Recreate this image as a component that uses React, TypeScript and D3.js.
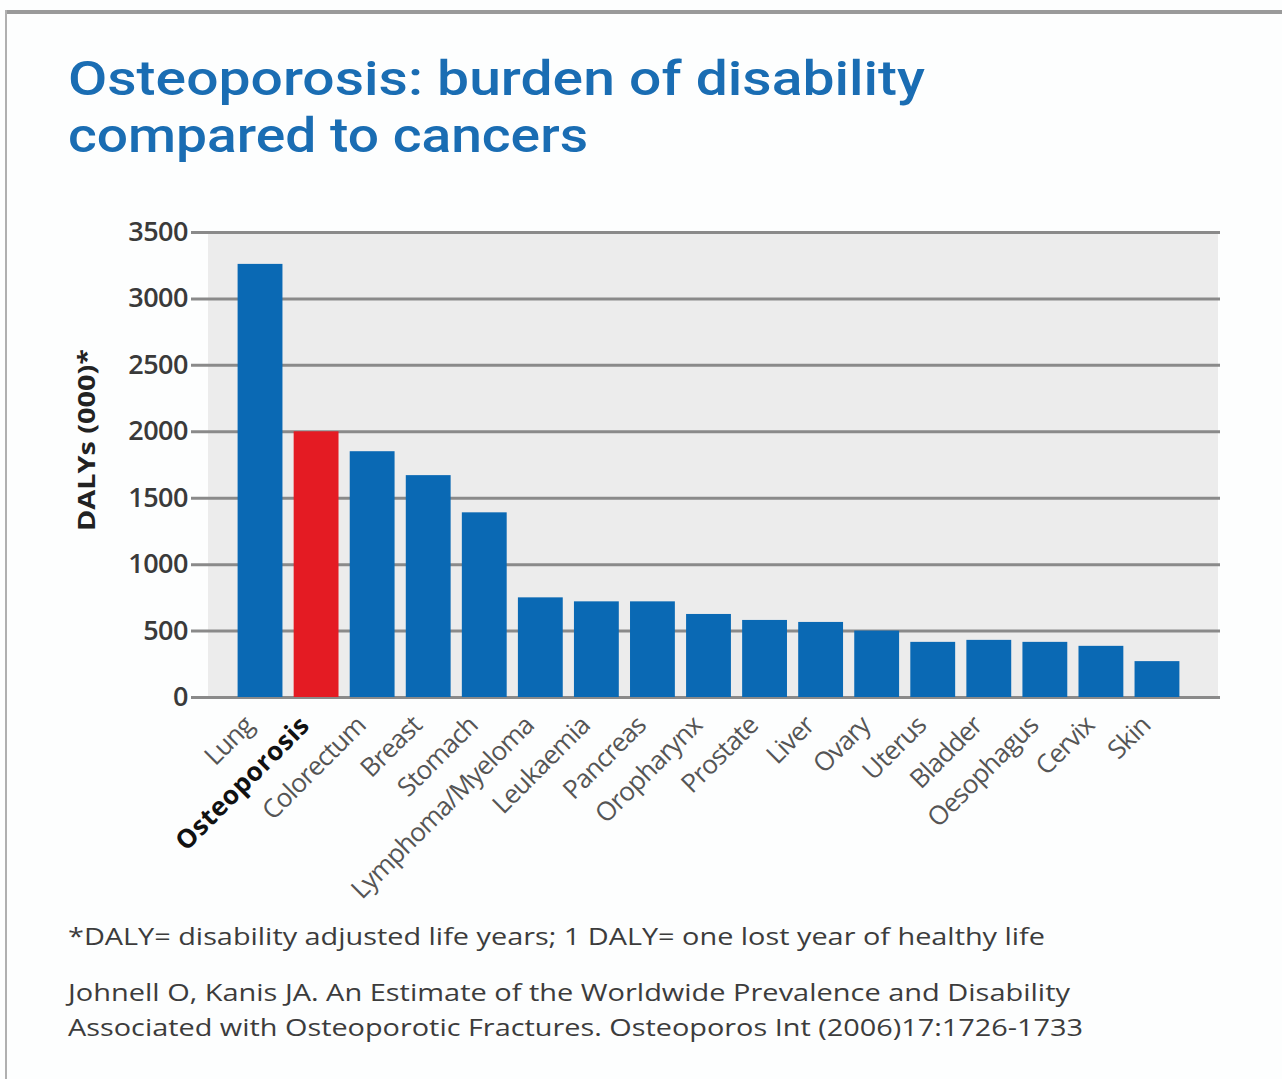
import React, { useEffect, useRef } from 'react';
import * as d3 from 'd3';

const categories = ['Lung', 'Osteoporosis', 'Colorectum', 'Breast', 'Stomach', 'Lymphoma/Myeloma', 'Leukaemia', 'Pancreas', 'Oropharynx', 'Prostate', 'Liver', 'Ovary', 'Uterus', 'Bladder', 'Oesophagus', 'Cervix', 'Skin'];
const dalys = [3260, 2000, 1850, 1670, 1390, 750, 720, 720, 625, 580, 565, 500, 415, 430, 415, 385, 270];
const yTicks = [0, 500, 1000, 1500, 2000, 2500, 3000, 3500];
const titleLines = ['Osteoporosis: burden of disability', 'compared to cancers'];
const footLines = [
	'*DALY= disability adjusted life years; 1 DALY= one lost year of healthy life',
	'Johnell O, Kanis JA. An Estimate of the Worldwide Prevalence and Disability',
	'Associated with Osteoporotic Fractures. Osteoporos Int (2006)17:1726-1733',
];

function App() {
	const ref = useRef(null);

	useEffect(() => {
		const w = 1282;
		const h = 1079;
		const svg = d3.select(ref.current).attr('width', w).attr('height', h);
		svg.selectAll('*').remove();

		svg.append('rect').attr('width', w).attr('height', h).attr('fill', '#fdfefe');
		// frame
		svg.append('line').attr('x1', 5).attr('x2', w).attr('y1', 12).attr('y2', 12)
			.attr('stroke', '#9a9a9a').attr('stroke-width', 4);
		svg.append('line').attr('x1', 6).attr('x2', 6).attr('y1', 10).attr('y2', h)
			.attr('stroke', '#b0b0b0').attr('stroke-width', 2);

		const font = '"Open Sans", sans-serif';

		svg.selectAll('.title')
			.data(titleLines)
			.join('text')
			.attr('x', 68)
			.attr('y', (d, i) => 95 + i * 57)
			.attr('textLength', (d, i) => (i === 0 ? 857 : 520))
			.attr('lengthAdjust', 'spacingAndGlyphs')
			.style('font-family', 'Roboto, sans-serif')
			.style('font-weight', 500)
			.style('font-size', '48px')
			.style('fill', '#1a6db3')
			.text(d => d);

		const x = d3.scaleBand().domain(categories).range([232, 1185]).paddingInner(0.2).paddingOuter(0.1);
		const y = d3.scaleLinear().domain([0, 3500]).range([697, 232]);

		svg.append('rect')
			.attr('x', 208).attr('y', y(3500))
			.attr('width', 1010).attr('height', y(0) - y(3500))
			.attr('fill', '#ececec');

		const gy = svg.append('g').attr('transform', 'translate(191,0)')
			.call(d3.axisRight(y).tickValues(yTicks).tickSize(1029).tickFormat(() => ''));
		gy.select('.domain').remove();
		gy.selectAll('line').attr('stroke', '#8a8a8a').attr('stroke-width', 3);

		svg.selectAll('.ytick')
			.data(yTicks)
			.join('text')
			.attr('x', 188)
			.attr('y', d => y(d) + 9)
			.attr('text-anchor', 'end')
			.style('font-family', font)
			.style('font-weight', 600)
			.style('font-size', '27px')
			.style('letter-spacing', '-0.5px')
			.style('fill', '#3a3a3a')
			.text(d => d);

		svg.append('text')
			.attr('transform', 'translate(95,440) rotate(-90)')
			.attr('text-anchor', 'middle')
			.attr('textLength', 182)
			.attr('lengthAdjust', 'spacingAndGlyphs')
			.style('font-family', font)
			.style('font-weight', 700)
			.style('font-size', '24px')
			.style('fill', '#222')
			.text('DALYs (000)*');

		svg.selectAll('.bar')
			.data(dalys)
			.join('rect')
			.attr('x', (d, i) => x(categories[i]))
			.attr('y', d => y(d))
			.attr('width', x.bandwidth())
			.attr('height', d => y(0) - y(d))
			.attr('fill', (d, i) => (categories[i] === 'Osteoporosis' ? '#e41b23' : '#0a69b4'));

		svg.selectAll('.xlab')
			.data(categories)
			.join('text')
			.attr('transform', d => `translate(${x(d) + x.bandwidth() / 2 - 5},727) rotate(-45)`)
			.attr('text-anchor', 'end')
			.style('font-family', font)
			.style('font-weight', d => (d === 'Osteoporosis' ? 700 : 400))
			.style('font-size', '26px')
			.style('letter-spacing', d => (d === 'Osteoporosis' ? '0.5px' : '-0.8px'))
			.style('fill', d => (d === 'Osteoporosis' ? '#111' : '#555'))
			.text(d => d);

		svg.selectAll('.foot')
			.data(footLines)
			.join('text')
			.attr('x', 68)
			.attr('y', (d, i) => (i === 0 ? 945 : 1001 + (i - 1) * 35))
			.attr('textLength', (d, i) => [977, 1002, 1015][i])
			.attr('lengthAdjust', 'spacingAndGlyphs')
			.style('font-family', font)
			.style('font-size', '23px')
			.style('fill', '#3c3c3c')
			.text(d => d);
	}, []);

	return (
		<div style={{ position: 'absolute', left: 0, top: 0 }}>
			<svg ref={ref} style={{ display: 'block' }} />
		</div>
	);
}

export default App;
